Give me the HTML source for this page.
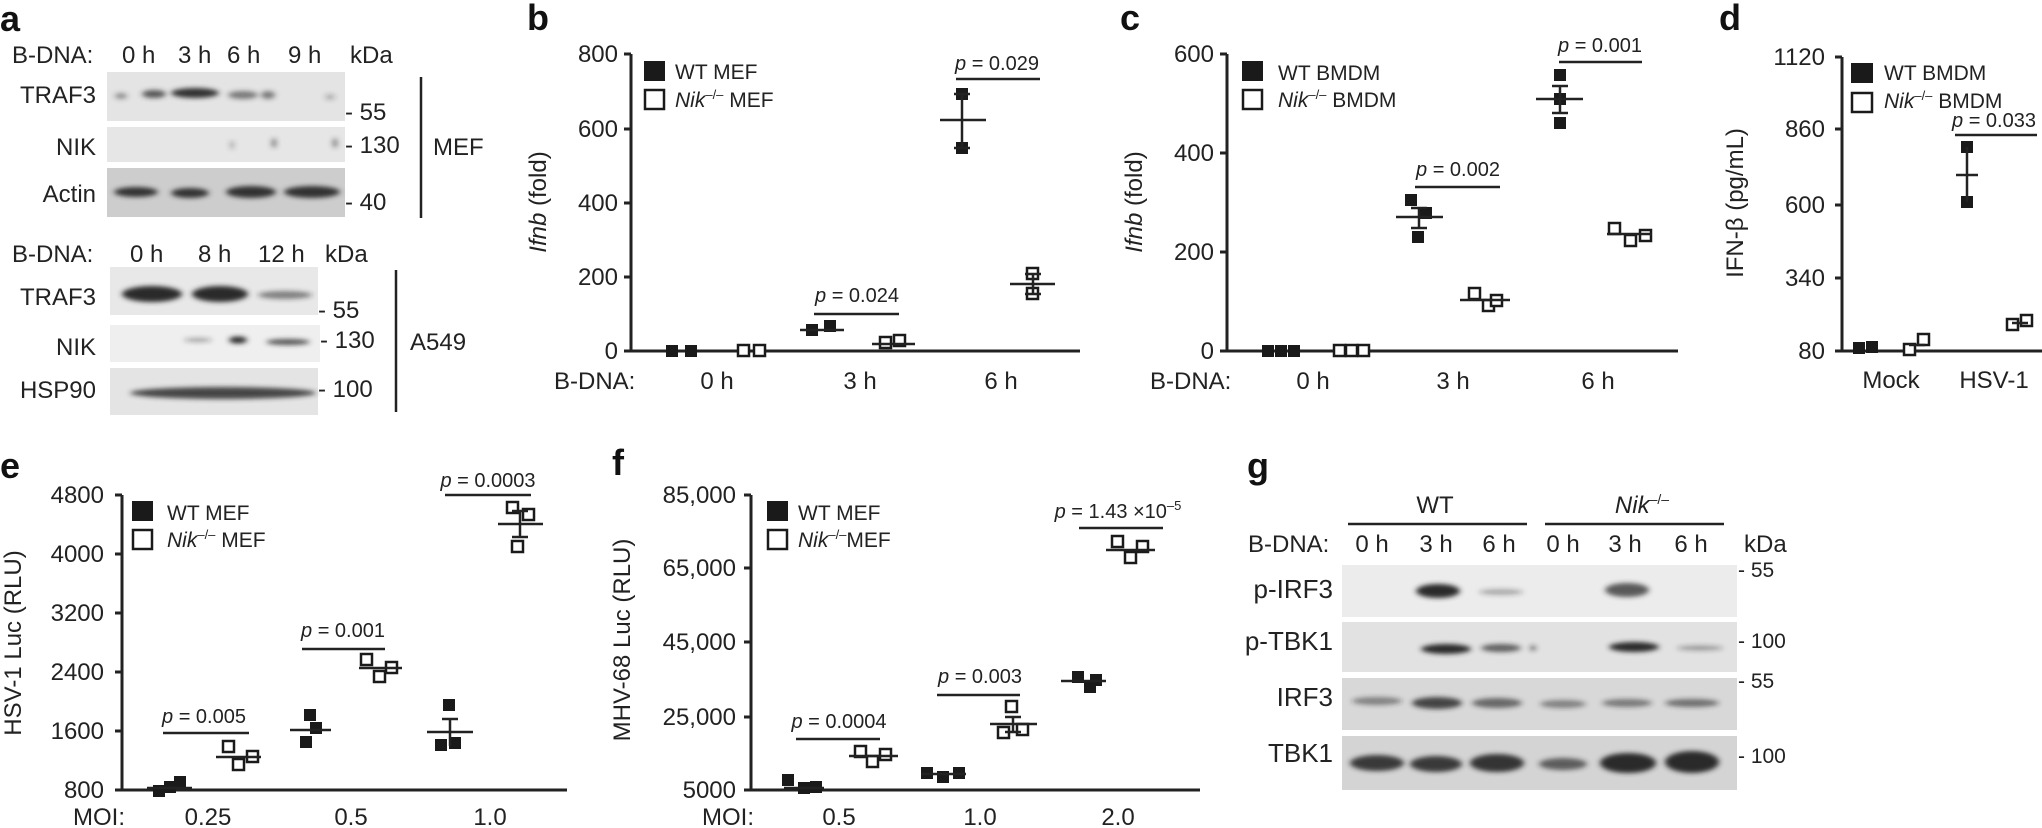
<!DOCTYPE html>
<html><head><meta charset="utf-8"><style>
html,body{margin:0;padding:0;background:#fff;}
svg{display:block;}
text{font-family:"Liberation Sans",sans-serif;fill:#222;}
.L{font-size:36px;font-weight:bold;fill:#111;}
.t{font-size:24px;}
.lg{font-size:21px;}
.s{font-size:20px;}
.ax{stroke:#222;stroke-width:3;fill:none;}
.ln{stroke:#222;stroke-width:2.5;fill:none;}
.f{fill:#1a1a1a;}
.o{fill:#fff;stroke:#1a1a1a;stroke-width:2.5;}
</style></head><body>
<svg width="2042" height="828" viewBox="0 0 2042 828" xmlns="http://www.w3.org/2000/svg">
<defs>
<filter id="bl" x="-30%" y="-100%" width="160%" height="300%"><feGaussianBlur stdDeviation="3 2.5"/></filter>
</defs>

<!-- ===== Panel a ===== -->
<text class="L" x="0" y="31">a</text>
<text class="t" x="12" y="63">B-DNA:</text>
<text class="t" x="122" y="63">0 h</text><text class="t" x="178" y="63">3 h</text><text class="t" x="227" y="63">6 h</text><text class="t" x="288" y="63">9 h</text><text class="t" x="350" y="63">kDa</text>
<rect x="107" y="72" width="238" height="49" fill="#e4e4e4"/>
<rect x="107" y="127" width="238" height="35" fill="#e6e6e6"/>
<rect x="107" y="168" width="238" height="49" fill="#cdcdcd"/>
<g filter="url(#bl)" fill="#333">
<ellipse cx="121" cy="96" rx="6" ry="3" opacity=".5"/>
<ellipse cx="154" cy="94" rx="12" ry="4" opacity=".8"/>
<ellipse cx="195" cy="93" rx="24" ry="5"/>
<ellipse cx="243" cy="95" rx="15" ry="4" opacity=".6"/>
<ellipse cx="268" cy="95" rx="7" ry="4" opacity=".6"/>
<ellipse cx="330" cy="97" rx="5" ry="3" opacity=".3"/>
<ellipse cx="232" cy="145" rx="1.5" ry="4" opacity=".5"/>
<ellipse cx="274" cy="143" rx="2" ry="5" opacity=".7"/>
<ellipse cx="335" cy="143" rx="2" ry="5" opacity=".7"/>
<ellipse cx="136" cy="192" rx="22" ry="5"/>
<ellipse cx="190" cy="193" rx="19" ry="5"/>
<ellipse cx="251" cy="192" rx="25" ry="6"/>
<ellipse cx="312" cy="192" rx="28" ry="6"/>
</g>
<text class="t" x="96" y="103" text-anchor="end">TRAF3</text>
<text class="t" x="96" y="155" text-anchor="end">NIK</text>
<text class="t" x="96" y="202" text-anchor="end">Actin</text>
<text class="t" x="345" y="120">- 55</text>
<text class="t" x="345" y="153">- 130</text>
<text class="t" x="345" y="210">- 40</text>
<line x1="421" y1="77" x2="421" y2="218" class="ln"/>
<text class="t" x="433" y="155">MEF</text>

<text class="t" x="12" y="262">B-DNA:</text>
<text class="t" x="130" y="262">0 h</text><text class="t" x="198" y="262">8 h</text><text class="t" x="258" y="262">12 h</text><text class="t" x="325" y="262">kDa</text>
<rect x="110" y="267" width="208" height="48" fill="#e8e8e8"/>
<rect x="110" y="325" width="210" height="37" fill="#efefef"/>
<rect x="110" y="368" width="208" height="47" fill="#e4e4e4"/>
<g filter="url(#bl)" fill="#2a2a2a">
<ellipse cx="152" cy="294" rx="30" ry="8"/>
<ellipse cx="220" cy="294" rx="28" ry="8"/>
<ellipse cx="285" cy="295" rx="27" ry="4" opacity=".55"/>
<ellipse cx="198" cy="340" rx="14" ry="2" opacity=".4"/>
<ellipse cx="238" cy="340" rx="9" ry="3.5"/>
<ellipse cx="288" cy="342" rx="22" ry="3" opacity=".8"/>
<ellipse cx="223" cy="393" rx="93" ry="6" opacity=".85"/>
</g>
<text class="t" x="96" y="305" text-anchor="end">TRAF3</text>
<text class="t" x="96" y="355" text-anchor="end">NIK</text>
<text class="t" x="96" y="398" text-anchor="end">HSP90</text>
<text class="t" x="318" y="318">- 55</text>
<text class="t" x="320" y="348">- 130</text>
<text class="t" x="318" y="397">- 100</text>
<line x1="396" y1="270" x2="396" y2="412" class="ln"/>
<text class="t" x="410" y="350">A549</text>

<!-- ===== Panel b ===== -->
<text class="L" x="527" y="30">b</text>
<path class="ax" d="M631 54V351H1080M624 54H631M624 129H631M624 203H631M624 277H631M624 351H631"/>
<g class="t" text-anchor="end">
<text x="618" y="62">800</text><text x="618" y="137">600</text><text x="618" y="211">400</text><text x="618" y="285">200</text><text x="618" y="359">0</text>
</g>
<text class="t" transform="translate(546,202) rotate(-90)" text-anchor="middle"><tspan font-style="italic">Ifnb</tspan> (fold)</text>
<rect x="644" y="61" width="21" height="20" class="f"/>
<text class="lg" x="675" y="79">WT MEF</text>
<rect x="645" y="90" width="19" height="19" class="o"/>
<text class="lg" x="675" y="107"><tspan font-style="italic">Nik</tspan><tspan dy="-8" font-size="13">–/–</tspan><tspan dy="8"> MEF</tspan></text>
<text class="t" x="554" y="389">B-DNA:</text>
<g class="t" text-anchor="middle"><text x="717" y="389">0 h</text><text x="860" y="389">3 h</text><text x="1001" y="389">6 h</text></g>
<g class="f"><rect x="666" y="345" width="12" height="12"/><rect x="685" y="345" width="12" height="12"/>
<rect x="806" y="324" width="12" height="12"/><rect x="824" y="320" width="12" height="12"/>
<rect x="956" y="88" width="12" height="12"/><rect x="956" y="142" width="12" height="12"/></g>
<g class="o"><rect x="738" y="345" width="11" height="11"/><rect x="754" y="345" width="11" height="11"/>
<rect x="880" y="337" width="11" height="11"/><rect x="894" y="335" width="11" height="11"/>
<rect x="1027" y="268" width="11" height="11"/><rect x="1027" y="288" width="11" height="11"/></g>
<path class="ln" d="M800 330H844M872 344H915M940 120H986M962 94V148M954 94H970M954 148H970M1010 284H1055M1033 274V294M1025 274H1041M1025 294H1041"/>
<text class="s" x="857" y="302" text-anchor="middle"><tspan font-style="italic">p</tspan> = 0.024</text>
<line x1="814" y1="314" x2="899" y2="314" class="ln"/>
<text class="s" x="997" y="70" text-anchor="middle"><tspan font-style="italic">p</tspan> = 0.029</text>
<line x1="956" y1="79" x2="1040" y2="79" class="ln"/>

<!-- ===== Panel c ===== -->
<text class="L" x="1120" y="30">c</text>
<path class="ax" d="M1227 54V351H1678M1220 54H1227M1220 153H1227M1220 252H1227M1220 351H1227"/>
<g class="t" text-anchor="end">
<text x="1214" y="62">600</text><text x="1214" y="161">400</text><text x="1214" y="260">200</text><text x="1214" y="359">0</text>
</g>
<text class="t" transform="translate(1142,202) rotate(-90)" text-anchor="middle"><tspan font-style="italic">Ifnb</tspan> (fold)</text>
<rect x="1242" y="61" width="21" height="20" class="f"/>
<text class="lg" x="1278" y="80">WT BMDM</text>
<rect x="1243" y="90" width="19" height="19" class="o"/>
<text class="lg" x="1278" y="107"><tspan font-style="italic">Nik</tspan><tspan dy="-8" font-size="13">–/–</tspan><tspan dy="8"> BMDM</tspan></text>
<text class="t" x="1150" y="389">B-DNA:</text>
<g class="t" text-anchor="middle"><text x="1313" y="389">0 h</text><text x="1453" y="389">3 h</text><text x="1598" y="389">6 h</text></g>
<g class="f"><rect x="1262" y="345" width="12" height="12"/><rect x="1275" y="345" width="12" height="12"/><rect x="1288" y="345" width="12" height="12"/>
<rect x="1405" y="194" width="12" height="12"/><rect x="1420" y="207" width="12" height="12"/><rect x="1412" y="231" width="12" height="12"/>
<rect x="1554" y="69" width="12" height="12"/><rect x="1554" y="93" width="12" height="12"/><rect x="1554" y="117" width="12" height="12"/></g>
<g class="o"><rect x="1334" y="345" width="11" height="11"/><rect x="1346" y="345" width="11" height="11"/><rect x="1358" y="345" width="11" height="11"/>
<rect x="1469" y="288" width="11" height="11"/><rect x="1483" y="300" width="11" height="11"/><rect x="1491" y="295" width="11" height="11"/>
<rect x="1609" y="223" width="11" height="11"/><rect x="1625" y="235" width="11" height="11"/><rect x="1640" y="230" width="11" height="11"/></g>
<path class="ln" d="M1396 217H1443M1419 208V228M1411 208H1427M1411 228H1427M1460 300H1510M1536 99H1583M1560 86V113M1552 86H1568M1552 113H1568M1607 234H1652"/>
<text class="s" x="1458" y="176" text-anchor="middle"><tspan font-style="italic">p</tspan> = 0.002</text>
<line x1="1415" y1="187" x2="1500" y2="187" class="ln"/>
<text class="s" x="1600" y="52" text-anchor="middle"><tspan font-style="italic">p</tspan> = 0.001</text>
<line x1="1559" y1="62" x2="1642" y2="62" class="ln"/>

<!-- ===== Panel d ===== -->
<text class="L" x="1719" y="30">d</text>
<path class="ax" d="M1842 57V351H2042M1835 57H1842M1835 129H1842M1835 205H1842M1835 278H1842M1835 351H1842"/>
<g class="t" text-anchor="end">
<text x="1825" y="65">1120</text><text x="1825" y="137">860</text><text x="1825" y="213">600</text><text x="1825" y="286">340</text><text x="1825" y="359">80</text>
</g>
<text class="t" transform="translate(1743,203) rotate(-90)" text-anchor="middle">IFN-β (pg/mL)</text>
<rect x="1851" y="63" width="22" height="20" class="f"/>
<text class="lg" x="1884" y="80">WT BMDM</text>
<rect x="1852" y="93" width="20" height="19" class="o"/>
<text class="lg" x="1884" y="108"><tspan font-style="italic">Nik</tspan><tspan dy="-8" font-size="13">–/–</tspan><tspan dy="8"> BMDM</tspan></text>
<g class="t" text-anchor="middle"><text x="1891" y="388">Mock</text><text x="1994" y="388">HSV-1</text></g>
<g class="f"><rect x="1853" y="342" width="12" height="12"/><rect x="1866" y="341" width="12" height="12"/>
<rect x="1961" y="141" width="12" height="12"/><rect x="1961" y="196" width="12" height="12"/></g>
<g class="o"><rect x="1904" y="344" width="11" height="11"/><rect x="1918" y="334" width="11" height="11"/>
<rect x="2007" y="319" width="11" height="11"/><rect x="2021" y="315" width="11" height="11"/></g>
<path class="ln" d="M1956 175H1978M1967 147V202M1909 345H1925M2012 323H2028"/>
<text class="s" x="1994" y="127" text-anchor="middle"><tspan font-style="italic">p</tspan> = 0.033</text>
<line x1="1955" y1="135" x2="2037" y2="135" class="ln"/>

<!-- ===== Panel e ===== -->
<text class="L" x="0" y="478">e</text>
<path class="ax" d="M122 495V790H567M115 495H122M115 554H122M115 613H122M115 672H122M115 731H122M115 790H122"/>
<g class="t" text-anchor="end">
<text x="104" y="503">4800</text><text x="104" y="562">4000</text><text x="104" y="621">3200</text><text x="104" y="680">2400</text><text x="104" y="739">1600</text><text x="104" y="798">800</text>
</g>
<text class="t" transform="translate(21,643) rotate(-90)" text-anchor="middle">HSV-1 Luc (RLU)</text>
<rect x="132" y="501" width="21" height="20" class="f"/>
<text class="lg" x="167" y="520">WT MEF</text>
<rect x="133" y="530" width="19" height="19" class="o"/>
<text class="lg" x="167" y="547"><tspan font-style="italic">Nik</tspan><tspan dy="-8" font-size="13">–/–</tspan><tspan dy="8"> MEF</tspan></text>
<text class="t" x="73" y="825">MOI:</text>
<g class="t" text-anchor="middle"><text x="208" y="825">0.25</text><text x="351" y="825">0.5</text><text x="490" y="825">1.0</text></g>
<g class="f"><rect x="153" y="785" width="12" height="12"/><rect x="174" y="776" width="12" height="12"/><rect x="164" y="781" width="12" height="12"/>
<rect x="304" y="709" width="12" height="12"/><rect x="310" y="722" width="12" height="12"/><rect x="300" y="736" width="12" height="12"/>
<rect x="443" y="699" width="12" height="12"/><rect x="435" y="739" width="12" height="12"/><rect x="449" y="737" width="12" height="12"/></g>
<g class="o"><rect x="223" y="741" width="11" height="11"/><rect x="233" y="759" width="11" height="11"/><rect x="247" y="751" width="11" height="11"/>
<rect x="361" y="654" width="11" height="11"/><rect x="374" y="671" width="11" height="11"/><rect x="386" y="662" width="11" height="11"/>
<rect x="507" y="502" width="11" height="11"/><rect x="523" y="509" width="11" height="11"/><rect x="512" y="541" width="11" height="11"/></g>
<path class="ln" d="M147 788H192M216 757H261M290 730H331M359 668H402M427 732H473M450 719V746M442 719H458M498 524H543M520 511V537M512 511H528M512 537H528"/>
<text class="s" x="204" y="723" text-anchor="middle"><tspan font-style="italic">p</tspan> = 0.005</text>
<line x1="163" y1="733" x2="249" y2="733" class="ln"/>
<text class="s" x="343" y="637" text-anchor="middle"><tspan font-style="italic">p</tspan> = 0.001</text>
<line x1="302" y1="649" x2="385" y2="649" class="ln"/>
<text class="s" x="488" y="487" text-anchor="middle"><tspan font-style="italic">p</tspan> = 0.0003</text>
<line x1="445" y1="495" x2="531" y2="495" class="ln"/>

<!-- ===== Panel f ===== -->
<text class="L" x="612" y="475">f</text>
<path class="ax" d="M751 495V790H1200M744 495H751M744 568H751M744 642H751M744 717H751M744 790H751"/>
<g class="t" text-anchor="end">
<text x="736" y="503">85,000</text><text x="736" y="576">65,000</text><text x="736" y="650">45,000</text><text x="736" y="725">25,000</text><text x="736" y="798">5000</text>
</g>
<text class="t" transform="translate(630,640) rotate(-90)" text-anchor="middle">MHV-68 Luc (RLU)</text>
<rect x="767" y="501" width="21" height="20" class="f"/>
<text class="lg" x="798" y="520">WT MEF</text>
<rect x="768" y="530" width="19" height="19" class="o"/>
<text class="lg" x="798" y="547"><tspan font-style="italic">Nik</tspan><tspan dy="-8" font-size="13">–/–</tspan><tspan dy="8">MEF</tspan></text>
<text class="t" x="702" y="825">MOI:</text>
<g class="t" text-anchor="middle"><text x="839" y="825">0.5</text><text x="980" y="825">1.0</text><text x="1118" y="825">2.0</text></g>
<g class="f"><rect x="782" y="774" width="12" height="12"/><rect x="798" y="782" width="12" height="12"/><rect x="810" y="781" width="12" height="12"/>
<rect x="921" y="767" width="12" height="12"/><rect x="937" y="771" width="12" height="12"/><rect x="953" y="767" width="12" height="12"/>
<rect x="1072" y="671" width="12" height="12"/><rect x="1090" y="674" width="12" height="12"/><rect x="1084" y="681" width="12" height="12"/></g>
<g class="o"><rect x="855" y="746" width="11" height="11"/><rect x="867" y="756" width="11" height="11"/><rect x="880" y="749" width="11" height="11"/>
<rect x="1006" y="701" width="11" height="11"/><rect x="998" y="727" width="11" height="11"/><rect x="1017" y="724" width="11" height="11"/>
<rect x="1112" y="536" width="11" height="11"/><rect x="1125" y="552" width="11" height="11"/><rect x="1137" y="541" width="11" height="11"/></g>
<path class="ln" d="M784 788H824M849 756H898M921 774H966M990 724H1037M1013 717V732M1005 717H1021M1005 732H1021M1061 681H1106M1106 550H1155"/>
<text class="s" x="839" y="728" text-anchor="middle"><tspan font-style="italic">p</tspan> = 0.0004</text>
<line x1="796" y1="739" x2="880" y2="739" class="ln"/>
<text class="s" x="980" y="683" text-anchor="middle"><tspan font-style="italic">p</tspan> = 0.003</text>
<line x1="937" y1="695" x2="1020" y2="695" class="ln"/>
<text class="s" x="1118" y="518" text-anchor="middle"><tspan font-style="italic">p</tspan> = 1.43 ×10<tspan dy="-8" font-size="13">–5</tspan></text>
<line x1="1079" y1="528" x2="1163" y2="528" class="ln"/>

<!-- ===== Panel g ===== -->
<text class="L" x="1247" y="478">g</text>
<text class="t" x="1435" y="513" text-anchor="middle">WT</text>
<line x1="1348" y1="524" x2="1527" y2="524" class="ln"/>
<text class="t" x="1642" y="513" text-anchor="middle"><tspan font-style="italic">Nik</tspan><tspan dy="-9" font-size="14">–/–</tspan></text>
<line x1="1545" y1="524" x2="1724" y2="524" class="ln"/>
<text class="t" x="1248" y="552">B-DNA:</text>
<g class="t" text-anchor="middle"><text x="1372" y="552">0 h</text><text x="1436" y="552">3 h</text><text x="1499" y="552">6 h</text><text x="1563" y="552">0 h</text><text x="1625" y="552">3 h</text><text x="1691" y="552">6 h</text></g>
<text class="t" x="1744" y="552">kDa</text>
<rect x="1342" y="565" width="395" height="52" fill="#ececec"/>
<rect x="1342" y="622" width="395" height="50" fill="#e2e2e2"/>
<rect x="1342" y="678" width="395" height="52" fill="#d8d8d8"/>
<rect x="1342" y="736" width="395" height="54" fill="#d4d4d4"/>
<g filter="url(#bl)" fill="#2a2a2a">
<ellipse cx="1438" cy="591" rx="22" ry="7"/>
<ellipse cx="1501" cy="592" rx="22" ry="3" opacity=".35"/>
<ellipse cx="1627" cy="590" rx="22" ry="7" opacity=".75"/>
<ellipse cx="1446" cy="649" rx="25" ry="5"/>
<ellipse cx="1501" cy="648" rx="20" ry="4" opacity=".7"/>
<ellipse cx="1533" cy="648" rx="3" ry="3" opacity=".6"/>
<ellipse cx="1634" cy="647" rx="25" ry="5"/>
<ellipse cx="1700" cy="648" rx="23" ry="2.5" opacity=".4"/>
<ellipse cx="1377" cy="701" rx="25" ry="4" opacity=".5"/>
<ellipse cx="1437" cy="703" rx="25" ry="6" opacity=".85"/>
<ellipse cx="1497" cy="703" rx="25" ry="5" opacity=".65"/>
<ellipse cx="1563" cy="704" rx="23" ry="4" opacity=".5"/>
<ellipse cx="1627" cy="703" rx="25" ry="4" opacity=".55"/>
<ellipse cx="1692" cy="703" rx="27" ry="4" opacity=".6"/>
<ellipse cx="1377" cy="763" rx="27" ry="8" opacity=".9"/>
<ellipse cx="1436" cy="764" rx="26" ry="8" opacity=".9"/>
<ellipse cx="1497" cy="763" rx="27" ry="9" opacity=".95"/>
<ellipse cx="1563" cy="764" rx="24" ry="6" opacity=".7"/>
<ellipse cx="1628" cy="763" rx="28" ry="10"/>
<ellipse cx="1692" cy="762" rx="27" ry="11"/>
</g>
<g class="t" text-anchor="end"><text x="1333" y="598" font-size="26">p-IRF3</text><text x="1333" y="650" font-size="26">p-TBK1</text><text x="1333" y="706" font-size="26">IRF3</text><text x="1333" y="762" font-size="26">TBK1</text></g>
<g class="lg"><text x="1738" y="577">- 55</text><text x="1738" y="648">- 100</text><text x="1738" y="688">- 55</text><text x="1738" y="763">- 100</text></g>
</svg>
</body></html>
